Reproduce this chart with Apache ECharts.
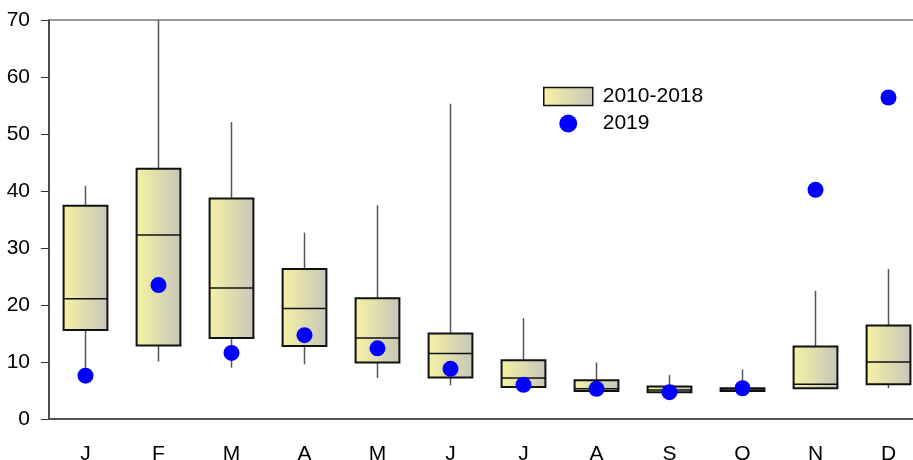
<!DOCTYPE html>
<html>
<head>
<meta charset="utf-8">
<script src="https://cdn.jsdelivr.net/npm/echarts@6/dist/echarts.min.js"></script>
<style>
  html, body { margin: 0; padding: 0; background: #fff; overflow: hidden; }
  #chart { width: 925px; height: 460px; }
</style>
</head>
<body>
<div id="chart"></div>
<script>
// Monthly distribution 2010-2018 (box = quartiles, whiskers = range) and 2019 values
const months = ['J', 'F', 'M', 'A', 'M', 'J', 'J', 'A', 'S', 'O', 'N', 'D'];
const whiskerLow  = [8.2, 10.1, 9.0, 9.6, 7.2, 5.9, 5.2, 4.8, 4.6, 4.8, 5.3, 5.4];
const q1          = [15.6, 12.9, 14.2, 12.8, 9.9, 7.3, 5.6, 4.9, 4.7, 4.9, 5.4, 6.1];
const median      = [21.1, 32.3, 23.0, 19.4, 14.2, 11.5, 7.2, 5.3, 5.1, 5.1, 6.1, 10.0];
const q3          = [37.4, 43.9, 38.7, 26.3, 21.2, 15.0, 10.3, 6.8, 5.7, 5.4, 12.7, 16.4];
const whiskerHigh = [40.9, 75.0, 52.1, 32.7, 37.5, 55.3, 17.7, 9.9, 7.7, 8.7, 22.5, 26.3];
const values2019  = [7.6, 23.5, 11.6, 14.7, 12.4, 8.8, 6.0, 5.3, 4.7, 5.4, 40.2, 56.4];
const yTicks = { min: 0, max: 70, step: 10 };

const FONT = 'Liberation Sans, Arial, sans-serif';
const FONT_SIZE = 21;
const boxFill = new echarts.graphic.LinearGradient(0, 0, 1, 0, [
  { offset: 0, color: '#f7f2a2' },
  { offset: 1, color: '#c6c5bb' }
]);

const boxData = months.map((m, i) => [i, whiskerLow[i], q1[i], median[i], q3[i], whiskerHigh[i]]);
const dotData = months.map((m, i) => [i, values2019[i]]);

function renderBox(params, api) {
  const i = api.value(0);
  const pLow = api.coord([i, api.value(1)]);
  const pQ1 = api.coord([i, api.value(2)]);
  const pMed = api.coord([i, api.value(3)]);
  const pQ3 = api.coord([i, api.value(4)]);
  const pHigh = api.coord([i, api.value(5)]);
  const w = api.size([1, 0])[0] * 0.6;
  const x0 = pQ1[0] - w / 2;
  return {
    type: 'group',
    children: [
      {
        type: 'line',
        shape: { x1: pLow[0], y1: pLow[1], x2: pHigh[0], y2: pHigh[1] },
        style: { stroke: '#555', lineWidth: 1.5 }
      },
      {
        type: 'rect',
        shape: { x: x0, y: pQ3[1], width: w, height: pQ1[1] - pQ3[1] },
        style: { fill: boxFill, stroke: '#111', lineWidth: 2 }
      },
      {
        type: 'line',
        shape: { x1: x0, y1: pMed[1], x2: x0 + w, y2: pMed[1] },
        style: { stroke: '#111', lineWidth: 1.5 }
      }
    ]
  };
}

const chart = echarts.init(document.getElementById('chart'), null, { renderer: 'canvas' });
chart.setOption({
  animation: false,
  backgroundColor: '#fff',
  textStyle: { fontFamily: FONT },
  grid: {
    left: 49, top: 20, right: 0, bottom: 41,
    outerBoundsMode: 'none',
    show: true, borderColor: '#333', borderWidth: 1, backgroundColor: 'transparent'
  },
  legend: {
    orient: 'vertical',
    left: 543, top: 86,
    padding: 0,
    itemWidth: 49, itemHeight: 18, itemGap: 6,
    textStyle: { fontFamily: FONT, fontSize: FONT_SIZE, color: '#000', padding: [0, 0, 0, 5] },
    data: [
      { name: '2010-2018', icon: 'rect',
        itemStyle: { color: boxFill, borderColor: '#111', borderWidth: 1.5 } },
      { name: '2019', icon: 'circle', itemStyle: { color: '#0000ff', borderWidth: 0 } }
    ]
  },
  xAxis: {
    type: 'category',
    data: months,
    boundaryGap: true,
    axisLine: { lineStyle: { color: '#555', width: 2 } },
    axisTick: { alignWithLabel: true, length: 10, lineStyle: { color: '#333' } },
    axisLabel: { fontFamily: FONT, fontSize: FONT_SIZE, color: '#000', margin: 25 },
    splitLine: { show: false }
  },
  yAxis: {
    type: 'value',
    min: yTicks.min, max: yTicks.max, interval: yTicks.step,
    axisLine: { show: true, lineStyle: { color: '#333', width: 1.5 } },
    axisTick: { show: true, inside: false, length: 8, lineStyle: { color: '#333' } },
    axisLabel: { fontFamily: FONT, fontSize: FONT_SIZE, color: '#000', margin: 19 },
    splitLine: { show: false }
  },
  series: [
    {
      name: '2010-2018',
      type: 'custom',
      renderItem: renderBox,
      clip: true,
      itemStyle: { color: boxFill, borderColor: '#111' },
      encode: { x: 0, y: [1, 2, 3, 4, 5] },
      data: boxData,
      z: 2
    },
    {
      name: '2019',
      type: 'scatter',
      symbol: 'circle',
      symbolSize: 16,
      itemStyle: { color: '#0000ff', opacity: 1 },
      data: dotData,
      z: 5
    }
  ]
});
</script>
</body>
</html>
